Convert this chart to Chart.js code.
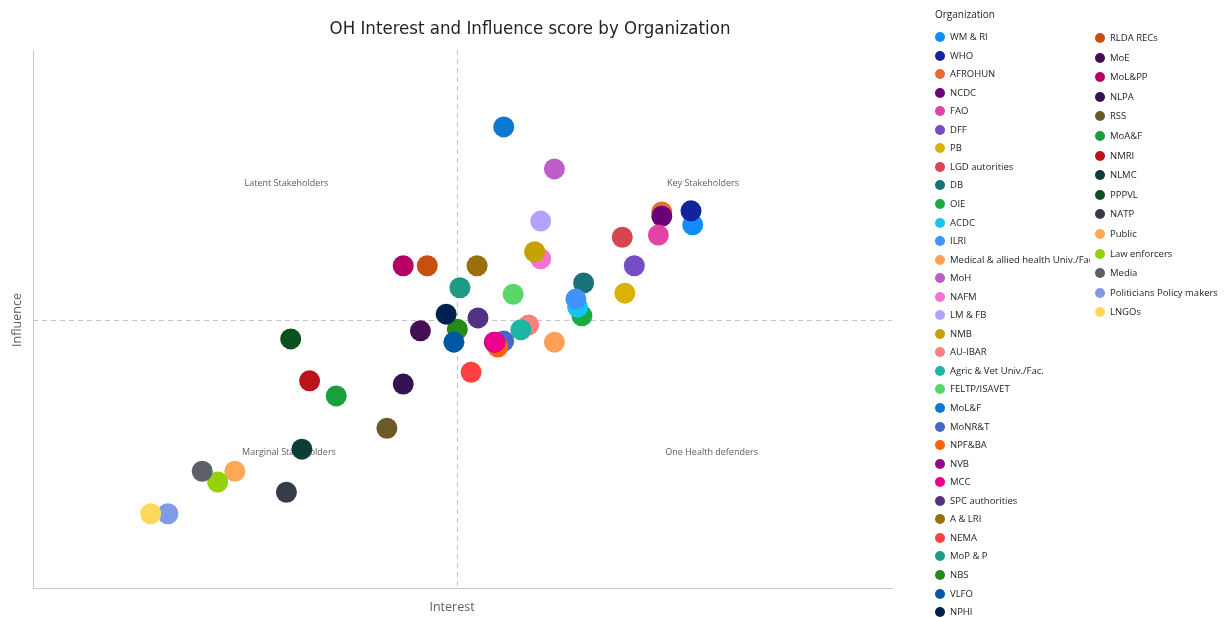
<!DOCTYPE html>
<html>
<head>
<meta charset="utf-8">
<script src="https://cdn.jsdelivr.net/npm/chart.js@4/dist/chart.umd.min.js"></script>
<style>
  html, body { margin:0; padding:0; background:#fff; }
  #wrap { position:relative; width:1225px; height:617px; overflow:hidden; }
  #c { position:absolute; left:0; top:0; }
  #legend { position:absolute; left:0; top:0; width:1225px; height:617px; pointer-events:none;
            font-family:"Open Sans","Noto Sans",sans-serif; font-size:9.5px; color:#252423; }
  .ltitle { position:absolute; left:935px; top:7px; font-size:10px; }
  .item { position:absolute; height:14px; line-height:14px; white-space:nowrap; overflow:hidden; }
  .dot { position:absolute; left:0; top:2px; width:10px; height:10px; border-radius:50%; }
  .txt { position:absolute; left:15px; top:0; }
</style>
</head>
<body>
<div id="wrap">
  <canvas id="c" width="1225" height="617"></canvas>
  <div id="legend"></div>
</div>
<script>
const organizations = ["WM & RI","WHO","AFROHUN","NCDC","FAO","DFF","PB","LGD autorities","DB","OIE","ACDC","ILRI",
  "Medical & allied health Univ./Fac.","MoH","NAFM","LM & FB","NMB","AU-IBAR","Agric & Vet Univ./Fac.","FELTP/ISAVET",
  "MoL&F","MoNR&T","NPF&BA","NVB","MCC","SPC authorities","A & LRI","NEMA","MoP & P","NBS","VLFO","NPHI",
  "RLDA RECs","MoE","MoL&PP","NLPA","RSS","MoA&F","NMRI","NLMC","PPPVL","NATP","Public","Law enforcers","Media",
  "Politicians Policy makers","LNGOs"];

const interest = [7.68,7.66,7.32,7.32,7.28,7.00,6.89,6.86,6.41,6.39,6.34,6.32,
  6.07,6.07,5.91,5.91,5.84,5.77,5.68,5.59,
  5.48,5.48,5.41,5.37,5.38,5.18,5.17,5.10,4.97,4.94,4.90,4.81,
  4.59,4.51,4.31,4.31,4.12,3.53,3.22,3.13,3.00,2.95,2.35,2.15,1.97,
  1.57,1.37];

const influence = [6.75,7.01,6.99,6.91,6.56,5.99,5.48,6.52,5.67,5.06,5.22,5.37,
  4.57,7.79,6.12,6.82,6.25,4.89,4.80,5.46,
  8.57,4.59,4.48,4.57,4.57,5.02,5.99,4.01,5.58,4.81,4.57,5.09,
  5.99,4.78,5.99,3.79,2.97,3.57,3.85,2.58,4.63,1.78,2.17,1.97,2.17,
  1.38,1.38];

const colors = ["#118DFF","#12239E","#E66C37","#6B007B","#E044A7","#744EC2","#D9B300","#D64550","#197278","#1AAB40","#15C6F4","#4092FF",
  "#FFA058","#BE5DC9","#F472D0","#B5A1FF","#C4A200","#FF8080","#1FB5A3","#5BD667",
  "#0B78D4","#4668C5","#FF6300","#99008A","#EC008C","#533285","#99700A","#FF4141","#1F9A85","#25891C","#0057A2","#002050",
  "#C94F0F","#450F54","#B60064","#34124F","#6A5A29","#1AA03A","#BA141A","#0C3D37","#0B511F","#363B48","#FFA958","#94D10A","#5C6168",
  "#7F9BE6","#FFD85B"];

const quadrantLabels = ["Latent Stakeholders","Key Stakeholders","Marginal Stakeholders","One Health defenders"];
const quadrantX = [2.95, 7.8, 2.98, 7.9];
const quadrantY = [7.52, 7.52, 2.52, 2.52];
const midX = 4.94, midY = 4.98;

const datasets = organizations.map((name, i) => ({
  label: name,
  data: [{x: interest[i], y: influence[i]}],
  backgroundColor: colors[i],
  borderWidth: 0,
  pointRadius: 10.5,
  pointHoverRadius: 10.5,
  order: organizations.length - i
}));

const overlay = {
  id: 'overlay',
  beforeDatasetsDraw(chart) {
    const {ctx, chartArea: a, scales: {x, y}} = chart;
    ctx.save();
    ctx.strokeStyle = '#c4c4c4';
    ctx.lineWidth = 1;
    ctx.setLineDash([5, 4]);
    const px = Math.round(x.getPixelForValue(midX)) + 0.5;
    const py = Math.round(y.getPixelForValue(midY)) + 0.5;
    ctx.beginPath(); ctx.moveTo(px, a.top); ctx.lineTo(px, a.bottom); ctx.stroke();
    ctx.beginPath(); ctx.moveTo(a.left, py); ctx.lineTo(a.right, py); ctx.stroke();
    ctx.setLineDash([]);
    ctx.fillStyle = '#605E5C';
    ctx.font = '9px "Open Sans", sans-serif';
    ctx.textAlign = 'center'; ctx.textBaseline = 'middle';
    quadrantLabels.forEach((t, i) => ctx.fillText(t, x.getPixelForValue(quadrantX[i]), y.getPixelForValue(quadrantY[i])));
    ctx.restore();
  },
  afterDraw(chart) {
    const {ctx} = chart;
    ctx.save();
    ctx.fillStyle = '#252423';
    ctx.font = '18.5px "DejaVu Sans Condensed", "DejaVu Sans", sans-serif';
    ctx.textAlign = 'center'; ctx.textBaseline = 'middle';
    ctx.fillText('OH Interest and Influence score by Organization', 530, 29);
    ctx.fillStyle = '#605E5C';
    ctx.font = '12.5px "Open Sans", sans-serif';
    ctx.fillText('Interest', 452, 607);
    ctx.translate(17, 320);
    ctx.rotate(-Math.PI / 2);
    ctx.fillText('Influence', 0, 0);
    ctx.restore();
  }
};

new Chart(document.getElementById('c'), {
  type: 'scatter',
  data: { datasets },
  options: {
    responsive: false,
    animation: false,
    layout: { padding: { left: 33, top: 50, right: 333, bottom: 29 } },
    plugins: { legend: { display: false }, tooltip: { enabled: false }, title: { display: false } },
    scales: {
      x: { min: 0, max: 10, ticks: { display: false }, grid: { display: false, drawTicks: false },
           border: { display: true, color: '#c8c8c8', width: 1 } },
      y: { min: 0, max: 10, ticks: { display: false }, grid: { display: false, drawTicks: false },
           border: { display: true, color: '#c8c8c8', width: 1 } }
    }
  },
  plugins: [overlay]
});

// Legend built from the same arrays
const legend = document.getElementById('legend');
const t = document.createElement('div'); t.className = 'ltitle'; t.textContent = 'Organization'; legend.appendChild(t);
const col1Count = 32;
organizations.forEach((name, i) => {
  const el = document.createElement('div'); el.className = 'item';
  let left, top, width;
  if (i < col1Count) { left = 935; top = 37 + i * 18.55 - 7; width = 155; }
  else { left = 1095; top = 38 + (i - col1Count) * 19.6 - 7; width = 130; }
  el.style.left = left + 'px'; el.style.top = top + 'px'; el.style.width = width + 'px';
  el.innerHTML = '<span class="dot" style="background:' + colors[i] + '"></span><span class="txt"></span>';
  el.querySelector('.txt').textContent = name;
  legend.appendChild(el);
});
</script>
</body>
</html>
